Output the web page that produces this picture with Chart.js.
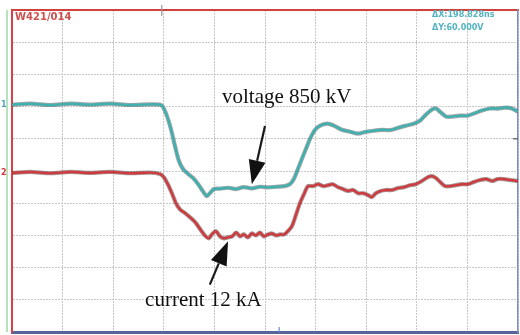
<!DOCTYPE html>
<html>
<head>
<meta charset="utf-8">
<script src="https://cdn.jsdelivr.net/npm/chart.js@4"></script>
<style>
  html, body { margin: 0; padding: 0; background: #fff; }
  #wrap { width: 520px; height: 335px; position: relative; }
</style>
</head>
<body>
<div id="wrap"><canvas id="scope"></canvas></div>
<script>
// screen is 10 x 10 divisions, y counted from the bottom edge

const voltageTime = [0, 0.36, 0.75, 1.15, 1.54, 1.94, 2.33, 2.73, 2.92, 2.98, 3.06, 3.14, 3.22, 3.30, 3.38, 3.48, 3.58, 3.68, 3.77, 3.85,
  3.91, 3.99, 4.11, 4.27, 4.43, 4.58, 4.74, 4.90, 5.06, 5.22, 5.38, 5.49, 5.57, 5.65, 5.73, 5.81, 5.89, 5.99, 6.09, 6.23,
  6.36, 6.52, 6.68, 6.84, 7.00, 7.15, 7.31, 7.47, 7.63, 7.79, 7.94, 8.06, 8.18, 8.30, 8.38, 8.46, 8.58, 8.70, 8.85, 9.01,
  9.17, 9.29, 9.45, 9.60, 9.76, 9.88, 10.0];
const voltageDiv = [7.06, 7.09, 7.05, 7.09, 7.06, 7.09, 7.05, 7.07, 7.06, 7.00, 6.72, 6.31, 5.78, 5.31, 5.06, 4.91, 4.78, 4.59, 4.38, 4.22,
  4.31, 4.44, 4.45, 4.48, 4.44, 4.50, 4.46, 4.51, 4.49, 4.51, 4.53, 4.59, 4.75, 5.06, 5.38, 5.69, 6.00, 6.28, 6.41, 6.47,
  6.41, 6.28, 6.22, 6.16, 6.22, 6.25, 6.28, 6.27, 6.34, 6.41, 6.47, 6.56, 6.75, 6.91, 6.94, 6.84, 6.69, 6.69, 6.72, 6.72,
  6.81, 6.88, 6.94, 6.94, 6.97, 6.94, 6.84];

const currentTime = [0, 0.36, 0.75, 1.15, 1.54, 1.94, 2.33, 2.73, 2.92, 3.00, 3.08, 3.16, 3.24, 3.32, 3.42, 3.52, 3.62, 3.72, 3.81, 3.89,
  3.95, 4.03, 4.11, 4.19, 4.27, 4.35, 4.43, 4.51, 4.58, 4.66, 4.74, 4.82, 4.90, 4.98, 5.06, 5.14, 5.22, 5.30, 5.38, 5.45,
  5.53, 5.61, 5.69, 5.77, 5.85, 5.95, 6.05, 6.15, 6.25, 6.34, 6.44, 6.54, 6.64, 6.74, 6.84, 6.94, 7.04, 7.11, 7.19, 7.29,
  7.39, 7.51, 7.63, 7.75, 7.87, 7.98, 8.10, 8.22, 8.30, 8.38, 8.46, 8.56, 8.66, 8.77, 8.89, 9.01, 9.13, 9.25, 9.37, 9.49,
  9.60, 9.72, 9.84, 10.0];
const currentDiv = [4.94, 4.97, 4.93, 4.97, 4.94, 4.97, 4.93, 4.95, 4.91, 4.81, 4.59, 4.31, 4.00, 3.81, 3.69, 3.56, 3.41, 3.19, 3.00, 2.91,
  3.03, 3.13, 2.97, 2.91, 2.94, 2.97, 3.09, 2.97, 3.03, 2.94, 3.06, 3.00, 3.09, 2.97, 3.03, 3.06, 3.00, 3.03, 3.03, 3.13,
  3.28, 3.63, 4.00, 4.28, 4.53, 4.53, 4.59, 4.53, 4.56, 4.59, 4.50, 4.44, 4.38, 4.41, 4.31, 4.31, 4.25, 4.19, 4.31, 4.38,
  4.41, 4.41, 4.47, 4.50, 4.56, 4.59, 4.69, 4.81, 4.84, 4.78, 4.66, 4.53, 4.53, 4.56, 4.59, 4.59, 4.66, 4.72, 4.75, 4.69,
  4.75, 4.75, 4.72, 4.69];

// annotations: [text x, text y] and arrow [tail x, tail y, tip x, tip y], in divisions
const voltageLabel = "voltage 850 kV";
const voltageLabelAt = [4.15, 7.1];
const voltageArrow = [5.0, 6.4, 4.74, 4.59];
const currentLabel = "current 12 kA";
const currentLabelAt = [2.63, 0.8];
const currentArrow = [3.91, 1.47, 4.27, 2.82];

const channelTag = "W421/014";
const cursorReadout = ["\u0394X:198.828ns", "\u0394Y:60.000V"];

const TEAL = "#3fb0b0";
const RED = "#cf3a3e";

function pts(xs, ys) {
  return xs.map((x, i) => ({ x: x, y: ys[i] }));
}

const voltagePts = pts(voltageTime, voltageDiv);
const currentPts = pts(currentTime, currentDiv);

function arrow(ctx, x1, y1, x2, y2) {
  const ang = Math.atan2(y2 - y1, x2 - x1);
  const head = 24, half = 8.5;
  const bx = x2 - head * Math.cos(ang), by = y2 - head * Math.sin(ang);
  ctx.strokeStyle = "#1a1a1a";
  ctx.fillStyle = "#111";
  ctx.lineWidth = 2.2;
  ctx.beginPath();
  ctx.moveTo(x1, y1);
  ctx.lineTo(bx, by);
  ctx.stroke();
  ctx.beginPath();
  ctx.moveTo(x2, y2);
  ctx.lineTo(bx + half * Math.sin(ang), by - half * Math.cos(ang));
  ctx.lineTo(bx - half * Math.sin(ang), by + half * Math.cos(ang));
  ctx.closePath();
  ctx.fill();
}

const scopeOverlay = {
  id: "scopeOverlay",
  afterDraw(chart) {
    const ctx = chart.ctx;
    const xs = chart.scales.x, ys = chart.scales.y;
    const px = v => xs.getPixelForValue(v);
    const py = v => ys.getPixelForValue(v);
    const area = chart.chartArea;
    ctx.save();

    // green line just left of the frame
    ctx.strokeStyle = "#9fd8a8";
    ctx.lineWidth = 1.5;
    ctx.beginPath();
    ctx.moveTo(area.left - 5, area.top);
    ctx.lineTo(area.left - 5, area.bottom);
    ctx.stroke();

    // channel markers
    ctx.font = "bold 8px 'DejaVu Sans'";
    ctx.textBaseline = "middle";
    ctx.textAlign = "left";
    ctx.fillStyle = "#5aa0c0";
    ctx.fillText("1", 1, py(voltageDiv[0]));
    ctx.fillStyle = RED;
    ctx.fillText("2", 1, py(currentDiv[0]));

    // trigger / level marks
    ctx.strokeStyle = "#999";
    ctx.lineWidth = 1.2;
    ctx.beginPath();
    ctx.moveTo(px(2.96), area.top - 5);
    ctx.lineTo(px(2.96), area.top + 6);
    ctx.stroke();
    ctx.strokeStyle = "#5d8fd0";
    ctx.beginPath();
    ctx.moveTo(px(5.28), area.bottom - 5);
    ctx.lineTo(px(5.28), area.bottom);
    ctx.stroke();
    ctx.strokeStyle = "#555";
    ctx.beginPath();
    ctx.moveTo(area.right - 5, py(6.0));
    ctx.lineTo(area.right, py(6.0));
    ctx.stroke();

    // screen text
    ctx.font = "bold 10px 'DejaVu Sans'";
    ctx.fillStyle = "#d05050";
    ctx.fillText(channelTag, area.left + 3, area.top + 7);
    ctx.font = "bold 8px 'DejaVu Sans'";
    ctx.fillStyle = "#52b4c0";
    ctx.fillText(cursorReadout[0], px(8.3), area.top + 5);
    ctx.fillText(cursorReadout[1], px(8.3), area.top + 18);

    // annotations
    ctx.font = "21px 'Liberation Serif'";
    ctx.fillStyle = "#111";
    ctx.textBaseline = "alphabetic";
    ctx.fillText(voltageLabel, px(voltageLabelAt[0]), py(voltageLabelAt[1]));
    ctx.fillText(currentLabel, px(currentLabelAt[0]), py(currentLabelAt[1]));
    arrow(ctx, px(voltageArrow[0]), py(voltageArrow[1]), px(voltageArrow[2]), py(voltageArrow[3]));
    arrow(ctx, px(currentArrow[0]), py(currentArrow[1]), px(currentArrow[2]), py(currentArrow[3]));
    ctx.restore();
  }
};

const gridStyle = { color: "#c8c8c8", lineWidth: 1, drawTicks: false, tickLength: 0 };
const hiddenTicks = { display: false };

new Chart(document.getElementById("scope"), {
  type: "line",
  data: {
    datasets: [
      { data: voltagePts, borderColor: "rgba(70,80,80,0.5)", borderWidth: 4.2, pointRadius: 0, tension: 0.3, order: 2 },
      { data: voltagePts, borderColor: TEAL, borderWidth: 2.4, pointRadius: 0, tension: 0.3, order: 1 },
      { data: currentPts, borderColor: "rgba(80,50,50,0.5)", borderWidth: 4.2, pointRadius: 0, tension: 0.3, order: 2 },
      { data: currentPts, borderColor: RED, borderWidth: 2.4, pointRadius: 0, tension: 0.3, order: 1 }
    ]
  },
  options: {
    responsive: true,
    maintainAspectRatio: false,
    animation: false,
    devicePixelRatio: 1,
    layout: { padding: { left: 12, top: 10, right: 2, bottom: 3 } },
    plugins: { legend: { display: false }, tooltip: { enabled: false } },
    scales: {
      x: {
        type: "linear", min: 0, max: 10,
        ticks: { display: false, stepSize: 1 },
        grid: gridStyle,
        border: { color: "#56649a", width: 3, dash: [2, 1] }
      },
      y: {
        type: "linear", min: 0, max: 10,
        ticks: { display: false, stepSize: 1 },
        grid: gridStyle,
        border: { color: "#d8404a", width: 2, dash: [2, 1] }
      },
      xTop: {
        type: "linear", position: "top", min: 0, max: 10,
        ticks: hiddenTicks,
        grid: { display: false, drawTicks: false, tickLength: 0 },
        border: { color: "#d0403c", width: 2 }
      },
      yRight: {
        type: "linear", position: "right", min: 0, max: 10,
        ticks: hiddenTicks,
        grid: { display: false, drawTicks: false, tickLength: 0 },
        border: { color: "#7d8cc4", width: 1.5 }
      }
    }
  },
  plugins: [scopeOverlay]
});
</script>
</body>
</html>
